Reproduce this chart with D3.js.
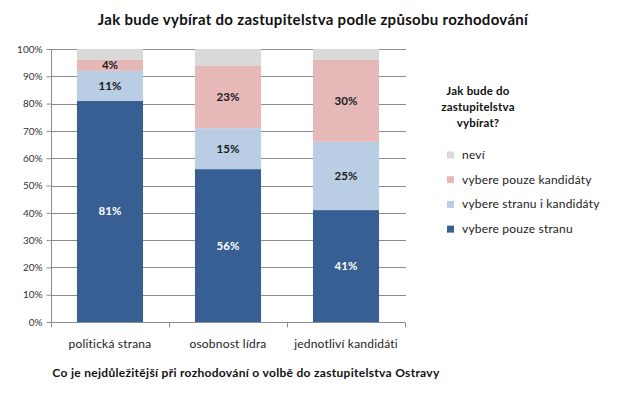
<!DOCTYPE html>
<html>
<head>
<meta charset="utf-8">
<script src="https://cdn.jsdelivr.net/npm/d3@7"></script>
<style>
  body { margin: 0; background: #fff; }
  svg { display: block; font-family: Lato, "Open Sans", sans-serif; }
</style>
</head>
<body>
<svg id="chart"></svg>
<script>
const categories = ["politická strana", "osobnost lídra", "jednotliví kandidáti"];
const seriesNames = ["vybere pouze stranu", "vybere stranu i kandidáty", "vybere pouze kandidáty", "neví"];
const pouzeStranu = [81, 56, 41];
const stranuIKandidaty = [11, 15, 25];
const pouzeKandidaty = [4, 23, 30];
const nevi = [4, 6, 4];
const yTicks = [0, 10, 20, 30, 40, 50, 60, 70, 80, 90, 100];

const colors = ["#375f93", "#b9cde5", "#e6b9b8", "#d9d9d9"];
const labelColors = ["#ffffff", "#1a1a1a", "#1a1a1a", null];

const width = 620, height = 418;
const margin = { top: 49, left: 51, right: 215, bottom: 96 };
const innerWidth = width - margin.left - margin.right;
const innerHeight = height - margin.top - margin.bottom;

const rows = categories.map((c, i) => ({
  category: c,
  "vybere pouze stranu": pouzeStranu[i],
  "vybere stranu i kandidáty": stranuIKandidaty[i],
  "vybere pouze kandidáty": pouzeKandidaty[i],
  "neví": nevi[i],
}));

const stacked = d3.stack().keys(seriesNames)(rows);

const svg = d3.select("#chart").attr("width", width).attr("height", height);

svg.append("text")
  .attr("x", 313)
  .attr("y", 25)
  .attr("text-anchor", "middle")
  .style("font-size", "15px")
  .style("font-weight", "bold")
  .style("letter-spacing", "0.3px")
  .attr("fill", "#111")
  .text("Jak bude vybírat do zastupitelstva podle způsobu rozhodování");

const chart = svg.append("g").attr("transform", `translate(${margin.left},${margin.top})`);

const xScale = d3.scaleBand().domain(categories).range([0, innerWidth]).paddingInner(0.44).paddingOuter(0.22);
const xTicks = d3.scaleBand().domain(categories).range([0, innerWidth]);
const yScale = d3.scaleLinear().domain([0, 100]).range([innerHeight, 0]);

// gridlines
chart.selectAll(".grid")
  .data(yTicks.filter((d) => d > 0))
  .join("line")
  .attr("x1", 0)
  .attr("x2", innerWidth + 1)
  .attr("y1", (d) => Math.round(yScale(d)) + 0.5)
  .attr("y2", (d) => Math.round(yScale(d)) + 0.5)
  .attr("stroke", "#8c8c8c");

// bars
const layer = chart.selectAll(".layer")
  .data(stacked)
  .join("g")
  .attr("fill", (d, i) => colors[i]);

layer.selectAll("rect")
  .data((d) => d)
  .join("rect")
  .attr("x", (d) => xScale(d.data.category))
  .attr("width", xScale.bandwidth())
  .attr("y", (d) => yScale(d[1]))
  .attr("height", (d) => yScale(d[0]) - yScale(d[1]));

// labels
stacked.forEach((s, si) => {
  if (!labelColors[si]) return;
  chart.selectAll(".lbl" + si)
    .data(s)
    .join("text")
    .attr("x", (d) => xScale(d.data.category) + xScale.bandwidth() / 2)
    .attr("y", (d) => yScale((d[0] + d[1]) / 2) + 4)
    .attr("text-anchor", "middle")
    .style("font-size", "11.5px")
    .style("font-weight", "bold")
    .attr("fill", labelColors[si])
    .text((d) => (d[1] - d[0]) + "%");
});

// y axis
const yAxis = d3.axisLeft(yScale).tickValues(yTicks).tickSize(5).tickFormat((d) => d + "%");
const yg = chart.append("g").attr("transform", "translate(0.5,0)").call(yAxis);
yg.select(".domain").attr("stroke", "#8c8c8c").attr("d", `M0,0V${innerHeight}`);
yg.selectAll(".tick line").attr("stroke", "#8c8c8c");
yg.selectAll(".tick text").attr("x", -9).style("font-size", "10px").style("font-family", "Lato, sans-serif").attr("fill", "#333");

// x axis
const xg = chart.append("g").attr("transform", `translate(0,${innerHeight + 0.5})`);
xg.append("line").attr("x1", 0).attr("x2", innerWidth).attr("stroke", "#8c8c8c");
xg.selectAll(".xt")
  .data([0, 1, 2, 3])
  .join("line")
  .attr("x1", (d) => Math.round(d * xTicks.step()) + 0.5)
  .attr("x2", (d) => Math.round(d * xTicks.step()) + 0.5)
  .attr("y1", 0)
  .attr("y2", 5)
  .attr("stroke", "#8c8c8c");
xg.selectAll(".xl")
  .data(categories)
  .join("text")
  .attr("x", (d) => xTicks(d) + xTicks.bandwidth() / 2)
  .attr("y", 25)
  .attr("text-anchor", "middle")
  .style("font-size", "12px")
  .style("letter-spacing", "0.2px")
  .attr("fill", "#222")
  .text((d) => d);

svg.append("text")
  .attr("x", 246)
  .attr("y", 377)
  .attr("text-anchor", "middle")
  .style("font-size", "12px")
  .style("font-weight", "bold")
  .style("letter-spacing", "0.3px")
  .attr("fill", "#111")
  .text("Co je nejdůležitější při rozhodování o volbě do zastupitelstva Ostravy");

// legend
const legendTitle = ["Jak bude do", "zastupitelstva", "vybírat?"];
svg.append("g")
  .selectAll("text")
  .data(legendTitle)
  .join("text")
  .attr("x", 478)
  .attr("y", (d, i) => 95 + i * 16)
  .attr("text-anchor", "middle")
  .style("font-size", "11.5px")
  .style("font-weight", "bold")
  .style("letter-spacing", "0.2px")
  .attr("fill", "#111")
  .text((d) => d);

const legendOrder = seriesNames.map((n, i) => ({ name: n, color: colors[i] })).reverse();
const legend = svg.append("g")
  .selectAll("g")
  .data(legendOrder)
  .join("g")
  .attr("transform", (d, i) => `translate(447,${155 + i * 24.7})`);
legend.append("rect")
  .attr("x", 0)
  .attr("y", -3.5)
  .attr("width", 7)
  .attr("height", 7)
  .attr("fill", (d) => d.color);
legend.append("text")
  .attr("x", 15)
  .attr("y", 4)
  .style("font-size", "12px")
  .style("letter-spacing", "0.2px")
  .attr("fill", "#222")
  .text((d) => d.name);
</script>
</body>
</html>
